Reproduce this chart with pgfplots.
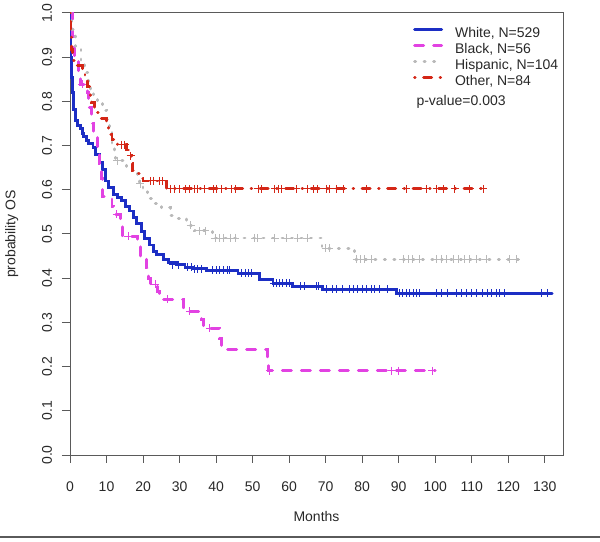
\documentclass[border=0pt]{standalone}
\usepackage{fontspec}
\setmainfont{Liberation Sans}
\usepackage{pgfplots}
\pgfplotsset{compat=1.18}
\definecolor{cwhite}{RGB}{28,46,196}
\definecolor{cblack}{RGB}{226,66,226}
\definecolor{chisp}{RGB}{185,185,185}
\definecolor{cother}{RGB}{212,38,22}
\definecolor{axgray}{RGB}{90,90,90}
\definecolor{txt}{RGB}{40,40,40}
\begin{document}
\begin{tikzpicture}[font=\fontsize{14bp}{17bp}\selectfont]
\useasboundingbox (0,0) rectangle (600bp,542bp);
\draw[axgray, line width=1.2bp] (0,5bp) -- (600bp,5bp);
\begin{axis}[
  at={(70bp,87bp)}, anchor=south west,
  width=493bp, height=442bp, scale only axis,
  xmin=0, xmax=135, ymin=0, ymax=1,
  xtick={0,10,...,130},
  ytick={0,0.1,0.2,0.3,0.4,0.5,0.6,0.7,0.8,0.9,1.0},
  yticklabels={0.0,0.1,0.2,0.3,0.4,0.5,0.6,0.7,0.8,0.9,1.0},
  /pgf/number format/assume math mode=true,
  tick align=outside, major tick length=8bp,
  xtick pos=bottom, ytick pos=left,
  axis line style={axgray, line width=1bp},
  tick style={axgray, line width=1bp},
  xticklabel style={anchor=center, yshift=-24bp, text=txt},
  yticklabel style={rotate=90, anchor=center, yshift=15bp, text=txt},
  xlabel={Months}, ylabel={probability OS},
  xlabel style={at={(axis description cs:0.5,-0.14)}, anchor=center, text=txt},
  ylabel style={at={(axis description cs:-0.118,0.5)}, anchor=center, rotate=0, text=txt},
  legend cell align=left,
  legend image code/.code={\draw[#1] (0bp,4.5bp) -- (27bp,4.5bp);},
  legend style={at={(0.6957,0.968)}, anchor=north west, draw=none, fill=none,
    inner sep=0pt, row sep=3bp, text=txt,
    nodes={inner sep=0pt, text height=10bp, text depth=3bp},
    /tikz/every odd column/.append style={column sep=12bp}},
  const plot,
]
% White
\addplot[cwhite, line width=2.9bp, line cap=round] coordinates {
(0,1.0) (0.1,0.95) (0.2,0.9) (0.3,0.855) (0.7,0.82) (0.9,0.782) (1.5,0.757) (2.1,0.745) (2.9,0.738) (3.3,0.728) (3.6,0.72) (4.5,0.712) (5,0.705) (6.3,0.695) (7,0.68) (8.2,0.662) (8.8,0.645) (9.6,0.62) (10.5,0.605) (11.8,0.59) (13,0.582) (14.2,0.575) (15.3,0.563) (16.4,0.552) (17.5,0.537) (18.3,0.523) (19.5,0.505) (20.5,0.49) (21.7,0.475) (22.8,0.461) (23.8,0.454) (25.5,0.443) (27,0.436) (29.2,0.43) (31.5,0.425) (33.8,0.421) (37.4,0.418) (46,0.411) (52,0.397) (55.6,0.389) (61,0.382) (69.2,0.375) (89.4,0.366) (132,0.366)};
\addlegendentry{White, N=529}
% Black
\addplot[cblack, line width=2.9bp, line cap=round, dash pattern=on 9bp off 10bp] coordinates {
(0,1.0) (0.8,0.946) (1.2,0.893) (2.3,0.857) (2.8,0.839) (4.7,0.821) (5.1,0.786) (6,0.75) (6.5,0.732) (7.5,0.696) (8,0.66) (8.6,0.625) (8.9,0.584) (11.5,0.563) (12,0.545) (13.8,0.527) (14.3,0.495) (18.6,0.474) (19.2,0.445) (21,0.423) (21.6,0.40) (22,0.386) (24,0.37) (24.5,0.352) (31,0.325) (36,0.306) (36.5,0.287) (41,0.263) (41.5,0.239) (54,0.215) (54.3,0.191) (100,0.191)};
\addlegendentry{Black, N=56}
% Hispanic
\addplot[chisp, line width=2.9bp, line cap=round, dash pattern=on 1bp off 8.5bp] coordinates {
(0,1) (0.5,0.962) (1.5,0.923) (3,0.885) (4,0.866) (5,0.846) (5.5,0.825) (6.5,0.806) (7.5,0.795) (9,0.78) (10,0.76) (10.8,0.73) (11.5,0.70) (12.2,0.68) (12.5,0.666) (15.5,0.65) (17,0.64) (18.5,0.625) (19,0.614) (20,0.60) (21.3,0.58) (23,0.57) (25,0.559) (27.4,0.541) (29,0.536) (32,0.52) (34,0.507) (39,0.491) (69,0.468) (78,0.443) (123,0.443)};
\addlegendentry{Hispanic, N=104}
% Other
\addplot[cother, line width=2.9bp, line cap=round, dash pattern=on 0.5bp off 8.5bp on 8bp off 8.5bp] coordinates {
(0,1) (0.2,0.952) (0.4,0.917) (0.8,0.893) (1.7,0.881) (3.4,0.866) (4.1,0.855) (4.8,0.833) (5.5,0.81) (6,0.798) (6.8,0.786) (7.4,0.774) (8.2,0.762) (10,0.75) (10.5,0.738) (11,0.726) (11.5,0.714) (13,0.702) (15.5,0.69) (16.3,0.677) (16.8,0.66) (17.2,0.643) (17.8,0.636) (19,0.625) (20,0.62) (26.5,0.602) (113.6,0.602)};
\addlegendentry{Other, N=84}
% censor marks
\addplot[forget plot, only marks, mark=+, mark size=4bp, mark options={solid, cwhite, line width=1bp}] coordinates {
(28.2,0.43) (29.6,0.43) (32.3,0.425) (33.2,0.425) (34.2,0.421) (35,0.421) (36,0.421) (39,0.418) (40,0.418) (41,0.418) (42,0.418) (43,0.418) (43.8,0.418) (47,0.411) (48,0.411) (49,0.411) (49.8,0.411) (55.8,0.389) (56.6,0.389) (57.5,0.389) (58.3,0.389) (59.2,0.389) (60,0.389) (63,0.382) (64.3,0.382) (67.5,0.382) (68,0.382) (70.2,0.375) (72,0.375) (73,0.375) (74.7,0.375) (76.6,0.375) (77.5,0.375) (78.8,0.375) (80.2,0.375) (81.2,0.375) (82.6,0.375) (83.5,0.375) (84.8,0.375) (87,0.375) (90.3,0.366) (91.1,0.366) (92.2,0.366) (93,0.366) (94,0.366) (95,0.366) (95.8,0.366) (100.4,0.366) (101.8,0.366) (103.4,0.366) (105.9,0.366) (107.3,0.366) (108.6,0.366) (110,0.366) (111.4,0.366) (113,0.366) (114.4,0.366) (115.5,0.366) (116.9,0.366) (117.7,0.366) (119,0.366) (129.2,0.366) (130.8,0.366)};
\addplot[forget plot, only marks, mark=+, mark size=4bp, mark options={solid, cblack, line width=1bp}] coordinates {
(3.3,0.839) (12.8,0.545) (15.9,0.495) (23.3,0.386) (26.8,0.352) (32.8,0.325) (38.3,0.287) (54.7,0.191) (88.1,0.191) (90,0.191) (99.2,0.191)};
\addplot[forget plot, only marks, mark=+, mark size=4bp, mark options={solid, chisp, line width=0.9bp}] coordinates {
(12.9,0.666) (19.2,0.614) (33,0.52) (35.5,0.507) (37,0.507) (39.7,0.491) (41,0.491) (42,0.491) (43.8,0.491) (45.2,0.491) (50.6,0.491) (51.4,0.491) (56.1,0.491) (59.4,0.491) (62.4,0.491) (64.9,0.491) (70,0.468) (71,0.468) (78.5,0.443) (79.4,0.443) (80.7,0.443) (82.6,0.443) (91.2,0.443) (92.6,0.443) (93.9,0.443) (95.8,0.443) (100.4,0.443) (101.7,0.443) (103.1,0.443) (104.9,0.443) (106.3,0.443) (108.1,0.443) (109.5,0.443) (111.3,0.443) (114,0.443) (120.4,0.443) (122.2,0.443)};
\addplot[forget plot, only marks, mark=+, mark size=4bp, mark options={solid, cother, line width=1bp}] coordinates {
(14.2,0.702) (15,0.702) (16.6,0.677) (22,0.62) (23,0.62) (24.5,0.62) (25.2,0.62) (27.4,0.602) (28.7,0.602) (30.1,0.602) (31.5,0.602) (32.8,0.602) (34.2,0.602) (35,0.602) (36.9,0.602) (39.2,0.602) (40.2,0.602) (41.6,0.602) (44.2,0.602) (45.2,0.602) (51.5,0.602) (52.5,0.602) (56.1,0.602) (57,0.602) (57.9,0.602) (62,0.602) (64.9,0.602) (66.6,0.602) (67.9,0.602) (70.2,0.602) (71.1,0.602) (72.9,0.602) (74.8,0.602) (81.2,0.602) (92.1,0.602) (97.6,0.602) (100.4,0.602) (102.2,0.602) (105.4,0.602) (109.5,0.602) (113.1,0.602)};
\node[anchor=base west, text=txt] at (axis description cs:0.6957,0.79) {p-value=0.003};
\end{axis}
\end{tikzpicture}
\end{document}
